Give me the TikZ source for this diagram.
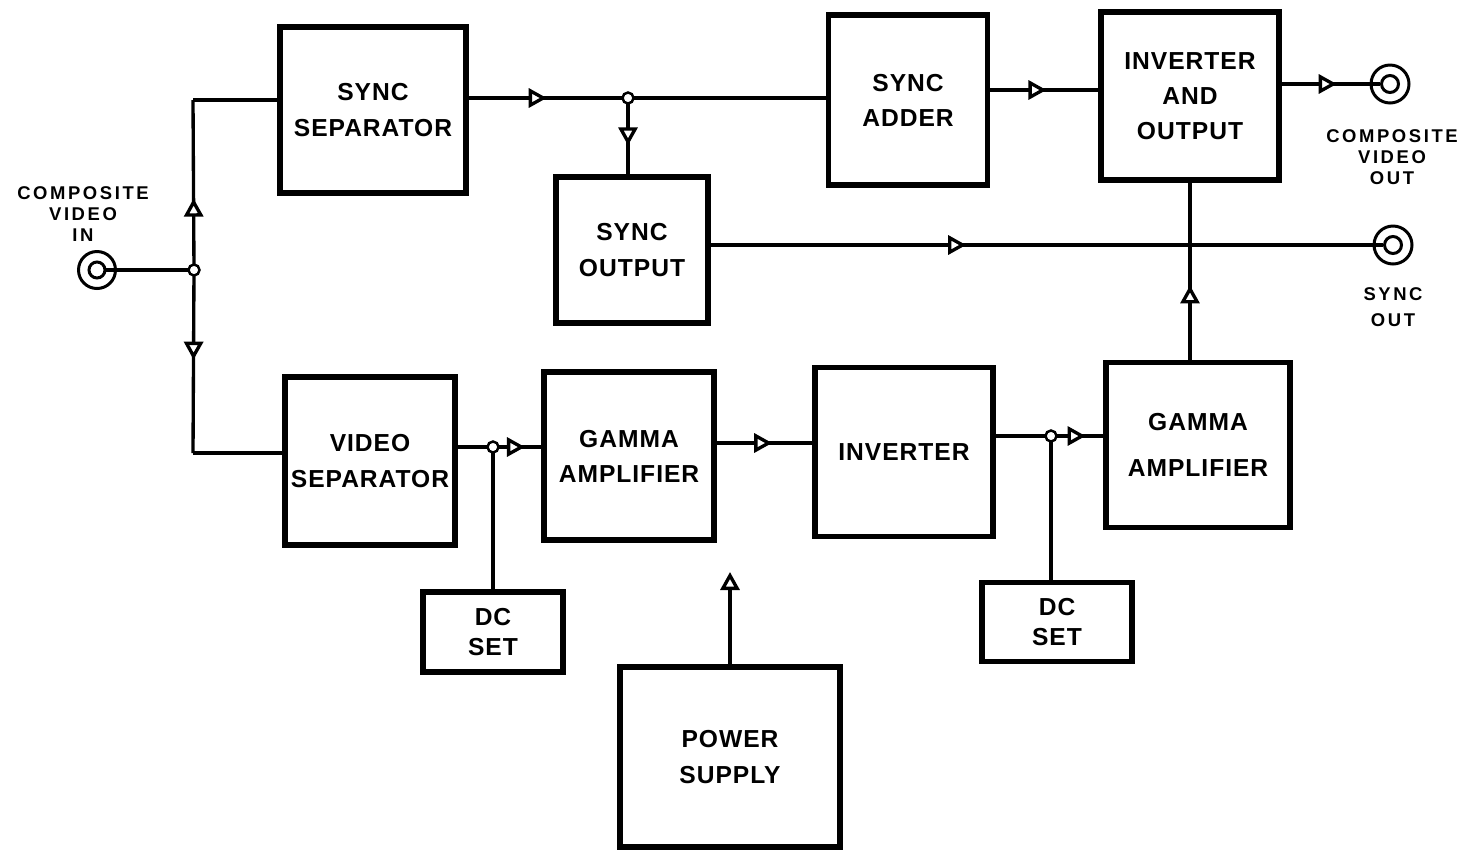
\documentclass[tikz,border=0pt]{standalone}
\usepackage{fontspec}
\setmainfont{Liberation Sans}
\newfontfamily\blkfont[LetterSpace=4.0]{Liberation Sans}
\newfontfamily\lblfont[LetterSpace=14.0]{Liberation Sans}
\usetikzlibrary{arrows.meta,decorations.markings}
\tikzset{
  opentri/.tip={Triangle[fill=white,length=0.36cm,width=0.38cm]},
  blk/.style={draw, line width=3pt, inner sep=0pt, align=center,
    font=\blkfont\bfseries\fontsize{14}{20}\selectfont},
  conn/.style={line width=1.9pt},
  arrowat/.style={postaction={decorate,decoration={markings,
    mark=at position #1 with {\arrow{opentri}}}}},
  junc/.style={circle,draw,fill=white,inner sep=0pt,minimum size=0.22cm,line width=1.4pt},
  jack/.style={circle,draw,line width=1.7pt,inner sep=0pt,minimum size=#1},
  lbl/.style={align=center,font=\lblfont\bfseries\fontsize{10.5}{12}\selectfont}
}
\begin{document}
\begin{tikzpicture}[x=0.02cm,y=-0.02cm]
\useasboundingbox (0,0) rectangle (1463,849);
\fill[white] (0,0) rectangle (1463,849);

% blocks
\node[blk, minimum width=3.72cm, minimum height=3.32cm] (syncsep) at (373,110) {SYNC\\SEPARATOR};
\node[blk, minimum width=3.18cm, minimum height=3.40cm] (syncadd) at (908,100) {SYNC\\ADDER};
\node[blk, minimum width=3.56cm, minimum height=3.36cm] (invout) at (1190,96) {INVERTER\\AND\\OUTPUT};
\node[blk, minimum width=3.04cm, minimum height=2.92cm] (syncout) at (632,250) {SYNC\\OUTPUT};
\node[blk, minimum width=3.40cm, minimum height=3.36cm] (vidsep) at (370,461) {VIDEO\\SEPARATOR};
\node[blk, minimum width=3.40cm, minimum height=3.36cm] (gamma1) at (629,456) {GAMMA\\AMPLIFIER};
\node[blk, minimum width=3.56cm, minimum height=3.38cm] (inv) at (904,452) {INVERTER};
\node[blk, minimum width=3.68cm, minimum height=3.30cm, font=\blkfont\bfseries\fontsize{14}{26}\selectfont] (gamma2) at (1198,445) {GAMMA\\AMPLIFIER};
\node[blk, minimum width=2.80cm, minimum height=1.60cm, font=\blkfont\bfseries\fontsize{14}{17}\selectfont] (dc1) at (493,632) {DC\\SET};
\node[blk, minimum width=3.00cm, minimum height=1.58cm, font=\blkfont\bfseries\fontsize{14}{17}\selectfont] (dc2) at (1057,622) {DC\\SET};
\node[blk, minimum width=4.40cm, minimum height=3.60cm] (power) at (730,757) {POWER\\SUPPLY};

% jacks
\node[jack=0.74cm] (jinO) at (97,270) {};
\node[jack=0.32cm] (jin) at (97,270) {};
\node[jack=0.76cm] (jcoutO) at (1390,84) {};
\node[jack=0.34cm] (jcout) at (1390,84) {};
\node[jack=0.76cm] (jsoutO) at (1393,245) {};
\node[jack=0.34cm] (jsout) at (1393,245) {};

% labels
\node[lbl] (lin) at (83,214) {COMPOSITE\\VIDEO\\IN};
\node[lbl] (lcout) at (1392,157) {COMPOSITE\\VIDEO\\OUT};
\node[lbl, font=\lblfont\bfseries\fontsize{10.5}{14.5}\selectfont] (lsout) at (1393,307) {SYNC\\OUT};

% junction coordinates
\coordinate (j1) at (194,270);
\coordinate (c1) at (193,100);
\coordinate (c2) at (193,453);
\coordinate (j2) at (628,98);
\coordinate (j3) at (493,447);
\coordinate (j4) at (1051,436);
\coordinate (s4) at (990,90);
\coordinate (s5) at (714,443);
\coordinate (yref) at (0,572);
\coordinate (pend) at (power.north |- yref);

% connectors
\draw[conn] (jin.east) -- (j1);
\draw[conn, arrowat=0.42] (j1) -- (c1);
\draw[conn] (c1) -- (syncsep.west |- c1);
\draw[conn, arrowat=0.49] (j1) -- (c2);
\draw[conn] (c2) -- (vidsep.west |- c2);

\draw[conn, arrowat=0.49] (syncsep.east |- j2) -- (j2);
\draw[conn] (j2) -- (syncadd.west |- j2);
\draw[conn, arrowat=0.62] (j2) -- (syncout.north -| j2);
\draw[conn, arrowat=0.52] (syncadd.east |- s4) -- (invout.west |- s4);
\draw[conn, arrowat=0.56] (invout.east |- jcout) -- (jcout.west);
\draw[conn, arrowat=0.38] (syncout.east |- jsout) -- (jsout.west);
\draw[conn, arrowat=0.42] (gamma2.north -| invout.south) -- (invout.south);

\draw[conn] (vidsep.east |- j3) -- (j3);
\draw[conn, arrowat=0.66] (j3) -- (gamma1.west |- j3);
\draw[conn] (j3) -- (dc1.north -| j3);
\draw[conn, arrowat=0.58] (gamma1.east |- s5) -- (inv.west |- s5);
\draw[conn] (inv.east |- j4) -- (j4);
\draw[conn, arrowat=0.66] (j4) -- (gamma2.west |- j4);
\draw[conn] (j4) -- (dc2.north -| j4);
\draw[conn, -{opentri}] (power.north) -- (pend);

% junction dots
\node[junc] (dj1) at (j1) {};
\node[junc] (dj2) at (j2) {};
\node[junc] (dj3) at (j3) {};
\node[junc] (dj4) at (j4) {};
\end{tikzpicture}
\end{document}
